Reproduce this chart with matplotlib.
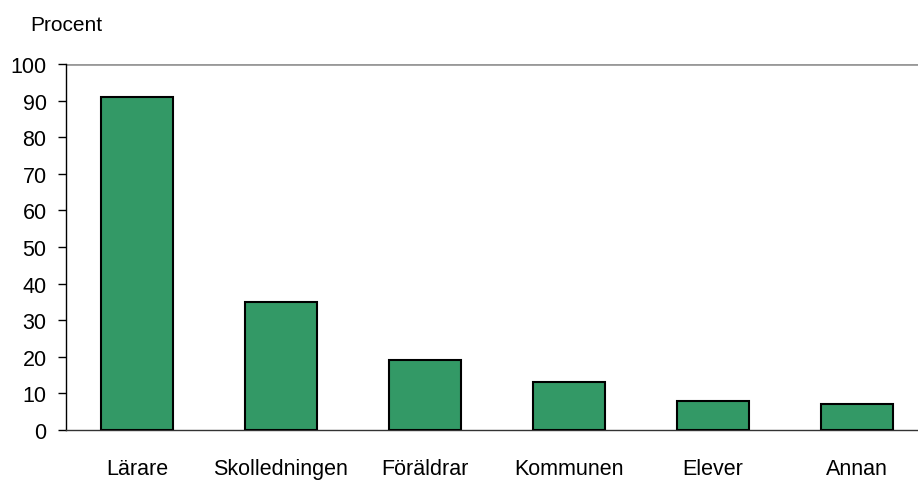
import matplotlib
matplotlib.use("Agg")
import matplotlib.pyplot as plt

categories = ["Lärare", "Skolledningen", "Föräldrar", "Kommunen", "Elever", "Annan"]
values = [91, 35, 19, 13, 8, 7]
yticks = [0, 10, 20, 30, 40, 50, 60, 70, 80, 90, 100]

plt.rcParams["font.family"] = ["Liberation Sans", "DejaVu Sans"]

fig = plt.figure(figsize=(9.18, 4.81), dpi=100)
ax = fig.add_axes([0.0719, 0.104, 0.9281, 0.761])
x = range(len(categories))
ax.bar(x, values, width=0.5, color="#339966", edgecolor="black", linewidth=1.5, zorder=3)
ax.set_xlim(-0.493, 5.424)
ax.set_ylim(0, 100)
ax.set_yticks(yticks)
ax.set_yticklabels([str(t) for t in yticks], fontsize=15.5)
ax.set_xticks(list(x))
ax.set_xticklabels(categories, fontsize=15.5)
ax.tick_params(axis="x", length=0, pad=20)
ax.tick_params(axis="y", length=6, width=1, direction="out", pad=8)
ax.axhline(100, color="#999999", linewidth=2, zorder=1)
for s in ["top", "right"]:
    ax.spines[s].set_visible(False)
ax.spines["left"].set_linewidth(1)
ax.spines["bottom"].set_linewidth(1)
ax.spines["bottom"].set_color("#333333")
fig.text(0.0327, 0.947, "Procent", fontsize=15, ha="left", va="center")
fig.savefig("out.png", dpi=100)
